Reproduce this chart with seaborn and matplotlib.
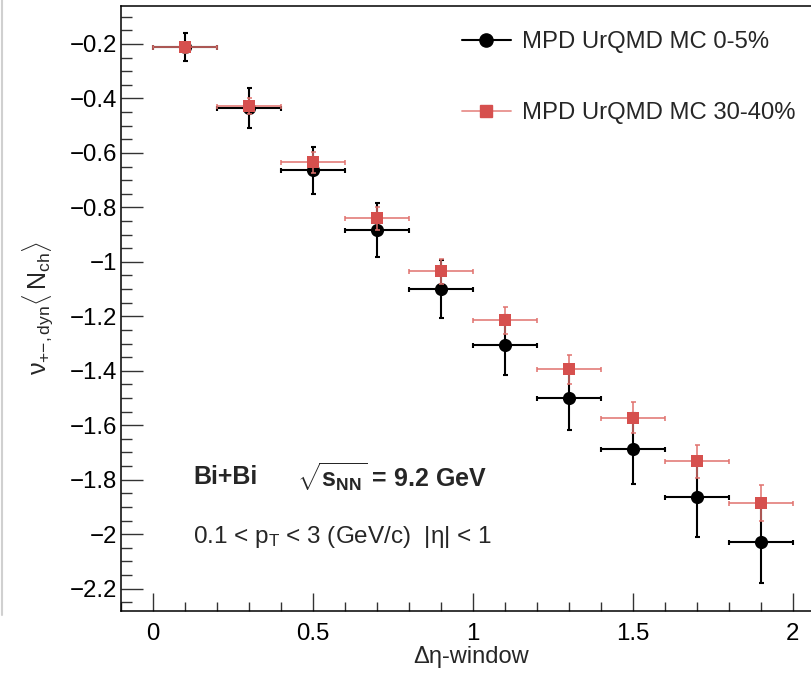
import numpy as np
import pandas as pd
import matplotlib
matplotlib.use("Agg")
import matplotlib.pyplot as plt
from matplotlib.lines import Line2D
from matplotlib.ticker import MultipleLocator, FuncFormatter
import seaborn as sns

# ---- data ----
deta = [0.1, 0.3, 0.5, 0.7, 0.9, 1.1, 1.3, 1.5, 1.7, 1.9]
deta_err = [0.1, 0.1, 0.1, 0.1, 0.1, 0.1, 0.1, 0.1, 0.1, 0.1]
central_y = [-0.211, -0.435, -0.664, -0.883, -1.100, -1.304, -1.500, -1.686, -1.864, -2.029]
central_err = [0.050, 0.073, 0.085, 0.100, 0.107, 0.110, 0.118, 0.130, 0.146, 0.152]
periph_y = [-0.212, -0.428, -0.635, -0.840, -1.034, -1.215, -1.394, -1.572, -1.733, -1.886]
periph_err = [0.020, 0.030, 0.037, 0.042, 0.046, 0.050, 0.053, 0.058, 0.062, 0.066]
labels = ["MPD UrQMD MC 0-5%", "MPD UrQMD MC 30-40%"]

sns.set_theme(style="white")
plt.rcParams["font.family"] = ["Liberation Sans", "DejaVu Sans"]
plt.rcParams["mathtext.fontset"] = "custom"
plt.rcParams["mathtext.rm"] = "Liberation Sans"
plt.rcParams["mathtext.it"] = "Liberation Sans:italic"
plt.rcParams["mathtext.bf"] = "Liberation Sans:bold"

BLACK = "#000000"
RED = "#d6504e"
RED_ERR = "#e0726e"

df = pd.DataFrame({
    "deta": deta * 2,
    "val": central_y + periph_y,
    "sample": [labels[0]] * len(deta) + [labels[1]] * len(deta),
})

fig = plt.figure(figsize=(8.12, 6.78), dpi=100)
W, H = 812, 678
ax = fig.add_axes([121 / W, (H - 611) / H, (824.7 - 121) / W, (611 - 6) / H])

# black series
ax.errorbar(deta, central_y, xerr=deta_err, yerr=central_err, fmt="none",
            ecolor=BLACK, elinewidth=1.5, capsize=1.8, capthick=1.5, zorder=2)
sns.scatterplot(data=df[df["sample"] == labels[0]], x="deta", y="val", ax=ax,
                marker="o", s=90, color=BLACK, edgecolor=BLACK, linewidth=0,
                zorder=3, legend=False)
# red series
ax.errorbar(deta, periph_y, xerr=deta_err, yerr=periph_err, fmt="none",
            ecolor=RED_ERR, elinewidth=1.1, capsize=1.8, capthick=1.1, zorder=4)
sns.scatterplot(data=df[df["sample"] == labels[1]], x="deta", y="val", ax=ax,
                marker="s", s=72, color=RED, edgecolor=RED, linewidth=0,
                zorder=5, legend=False)

ax.set_xlim(-0.1, 2.1)
ax.set_ylim(-2.282, -0.0605)

ax.xaxis.set_major_locator(MultipleLocator(0.5))
ax.xaxis.set_minor_locator(MultipleLocator(0.1))
ax.yaxis.set_major_locator(MultipleLocator(0.2))
ax.yaxis.set_minor_locator(MultipleLocator(0.05))
fmt = FuncFormatter(lambda v, p: ("%g" % round(v, 6)).replace("-", "\u2212"))
ax.xaxis.set_major_formatter(fmt)
ax.yaxis.set_major_formatter(fmt)

ax.tick_params(axis="both", which="both", direction="in", color="#333333",
               width=1.0, labelsize=17.3, labelcolor="black",
               bottom=True, left=True, top=False, right=False)
ax.tick_params(axis="x", which="major", length=12.7, pad=8.5)
ax.tick_params(axis="x", which="minor", length=6.7)
ax.tick_params(axis="y", which="major", length=15.6, pad=2.5)
ax.tick_params(axis="y", which="minor", length=7.7)

for side in ["left", "bottom", "top", "right"]:
    ax.spines[side].set_color("black")
    ax.spines[side].set_linewidth(1.1)

ax.set_xlabel("\u0394\u03b7-window", fontsize=17)
ax.xaxis.set_label_coords(0.497, -0.058)
ax.set_ylabel(r"$\mathrm{\nu}_{{+}{-},\mathrm{dyn}}\langle\,\mathrm{N}_{\mathrm{ch}}\rangle$", fontsize=18)
ax.yaxis.set_label_coords(-0.092, 0.5)

# legend
handles = [
    Line2D([], [], color=BLACK, lw=1.5, marker="o", markersize=9.5,
           markerfacecolor=BLACK, markeredgecolor=BLACK),
    Line2D([], [], color="#e8918d", lw=1.3, marker="s", markersize=8.6,
           markerfacecolor=RED, markeredgecolor=RED),
]
ax.legend(handles, labels, loc="upper left", bbox_to_anchor=(462 / W, 1 - 31 / H),
          bbox_transform=fig.transFigure, frameon=False, fontsize=17.2,
          handlelength=2.05, handletextpad=0.45, labelspacing=2.05,
          borderpad=0, borderaxespad=0)

# annotations
fig.text(193 / W, 1 - 477 / H, "Bi+Bi", fontsize=18, fontweight="bold",
         ha="left", va="center")
fig.text(297 / W, 1 - 477 / H, r"$\sqrt{\mathbf{s}_{\mathbf{NN}}}$ = 9.2 GeV",
         fontsize=18, fontweight="bold", ha="left", va="center")
fig.text(193 / W, 1 - 537 / H, r"0.1 < p$_{\mathrm{T}}$ < 3 (GeV/c)  |η| < 1",
         fontsize=17.5, ha="left", va="center")

# faint border line of the original screenshot
fig.add_artist(Line2D([2 / W, 2 / W], [1 - 615 / H, 1.0], transform=fig.transFigure,
                      color="#d0d0d0", lw=1.5))

fig.savefig("out.png", dpi=100)
